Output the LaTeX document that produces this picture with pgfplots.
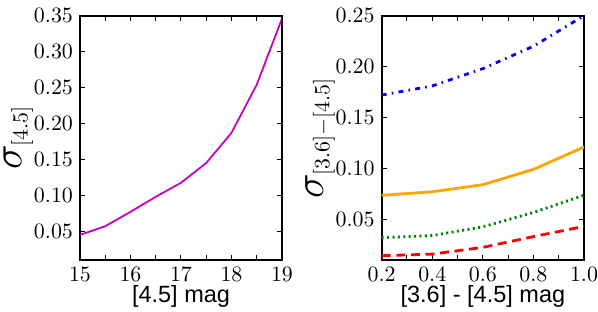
\documentclass[border=0pt]{standalone}
\usepackage{fontspec}
\newfontfamily\labelfont{Liberation Sans}
\usepackage{pgfplots}
\pgfplotsset{compat=1.18}
\definecolor{mplm}{rgb}{0.78,0,0.78}
\definecolor{mplorange}{HTML}{FFA500}
\definecolor{mplgreen}{HTML}{008000}
\definecolor{mplred}{HTML}{FF0000}
\definecolor{mplblue}{HTML}{0000FF}
\begin{document}
\begin{tikzpicture}
\useasboundingbox (0,0) rectangle (299pt,155.5pt);
\pgfplotsset{
  every axis/.append style={
    scale only axis,
    height=122.15pt,
    tick align=inside,
    tick pos=both,
    major tick length=2.5pt,
    minor tick length=2.5pt,
    axis line style={line width=0.9pt},
    every tick/.style={black, line width=0.5pt},
    tick label style={font=\fontsize{11}{13}\selectfont},
    xlabel style={font=\labelfont\fontsize{11.75}{14}\selectfont, at={(axis description cs:0.5,-0.15)}, anchor=center, inner sep=0pt},
    ylabel style={font=\fontsize{21}{21}\selectfont, at={(axis description cs:-0.305,0.5)}, anchor=center, inner sep=0pt},
    yticklabel style={/pgf/number format/.cd, fixed, fixed zerofill, precision=2},
  }
}
\begin{axis}[
  at={(40pt,25.5pt)}, anchor=south west,
  width=101pt,
  xmin=15, xmax=19, ymin=0.01, ymax=0.35,
  xtick={15,16,17,18,19},
  minor xtick={15.5,16.5,17.5,18.5},
  ytick={0.05,0.10,0.15,0.20,0.25,0.30,0.35},
  xlabel={[4.5] mag},
  ylabel={$\sigma_{\scriptscriptstyle [4.5]}$},
]
\addplot[mplm, line width=0.9pt] coordinates {
(15,0.045)(15.5,0.057)(16,0.077)(16.5,0.098)(17,0.1175)(17.5,0.145)(18,0.187)(18.5,0.254)(19,0.346)};
\end{axis}
\begin{axis}[
  at={(190.85pt,25.5pt)}, anchor=south west,
  width=101.15pt,
  xmin=0.2, xmax=1.0, ymin=0.01, ymax=0.25,
  xtick={0.2,0.4,0.6,0.8,1.0},
  minor xtick={0.3,0.5,0.7,0.9},
  ytick={0.05,0.10,0.15,0.20,0.25},
  xticklabel style={/pgf/number format/.cd, fixed, fixed zerofill, precision=1},
  xlabel={[3.6] - [4.5] mag},
  ylabel={$\sigma_{\scriptscriptstyle [3.6]-[4.5]}$},
]
\addplot[mplblue, line width=1.4pt, dash pattern=on 2.5pt off 2.6pt on 0.8pt off 2.6pt] coordinates {
(0.2,0.172)(0.4,0.181)(0.6,0.198)(0.8,0.220)(1.0,0.250)};
\addplot[mplorange, line width=1.4pt] coordinates {
(0.2,0.0736)(0.4,0.077)(0.6,0.084)(0.8,0.099)(1.0,0.121)};
\addplot[mplgreen, line width=1.4pt, dash pattern=on 1pt off 1.7pt] coordinates {
(0.2,0.032)(0.4,0.034)(0.6,0.0426)(0.8,0.0567)(1.0,0.0736)};
\addplot[mplred, line width=1.4pt, dash pattern=on 4.5pt off 2.8pt] coordinates {
(0.2,0.0142)(0.4,0.0158)(0.6,0.0224)(0.8,0.033)(1.0,0.043)};
\end{axis}
\end{tikzpicture}
\end{document}
